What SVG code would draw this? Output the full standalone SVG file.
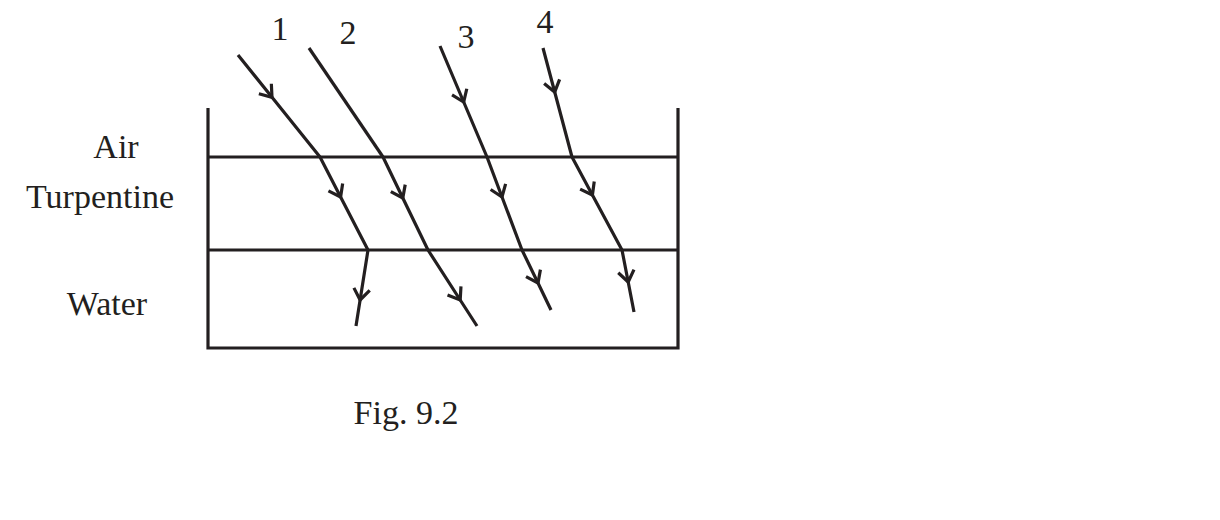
<svg xmlns="http://www.w3.org/2000/svg" width="1220" height="520" viewBox="0 0 1220 520">
<style>
.l{fill:none;stroke:#231f20;stroke-width:3.2;stroke-linejoin:miter}
.r{fill:none;stroke:#231f20;stroke-width:3.2;marker-mid:url(#a)}
text{font-family:"Liberation Serif",serif;font-size:34px;fill:#231f20}
</style>
<defs>
<marker id="a" markerUnits="userSpaceOnUse" orient="auto" markerWidth="30" markerHeight="30" refX="0" refY="0" viewBox="-15 -15 30 30" overflow="visible">
<path d="M-11,-8 L0,0 L-11,8" fill="none" stroke="#231f20" stroke-width="3.2"/>
</marker>
</defs>
<rect width="1220" height="520" fill="#fff"/>
<g id="vessel">
<path class="l" d="M208,108 V348 H678 V108"/>
<path class="l" d="M208,157 H678 M208,250 H678"/>
</g>
<g id="labels">
<text x="116" y="158" text-anchor="middle">Air</text>
<text x="100" y="208" text-anchor="middle">Turpentine</text>
<text x="107" y="315" text-anchor="middle">Water</text>
<text x="406" y="424" text-anchor="middle">Fig. 9.2</text>
<text x="280" y="40" text-anchor="middle">1</text>
<text x="348" y="44" text-anchor="middle">2</text>
<text x="466" y="48" text-anchor="middle">3</text>
<text x="545" y="33" text-anchor="middle">4</text>
</g>
<g id="connectors">
<path class="r" d="M238,55 L272,97.3 L320,157"/>
<path class="r" d="M320,157 L340.6,197 L368,250"/>
<path class="r" d="M368,250 L360.1,300 L356,326"/>
<path class="l" d="M309,48 L383,157"/>
<path class="r" d="M383,157 L402.8,198 L428,250"/>
<path class="r" d="M428,250 L460.2,300 L477,326"/>
<path class="r" d="M440,46 L463.7,102 L487,157"/>
<path class="r" d="M487,157 L502,197 L522,250"/>
<path class="r" d="M522,250 L538,283 L551,310"/>
<path class="r" d="M543,48 L554.7,92 L572,157"/>
<path class="r" d="M572,157 L592.4,195 L622,250"/>
<path class="r" d="M622,250 L628.2,282 L634,312"/>
</g>
</svg>
